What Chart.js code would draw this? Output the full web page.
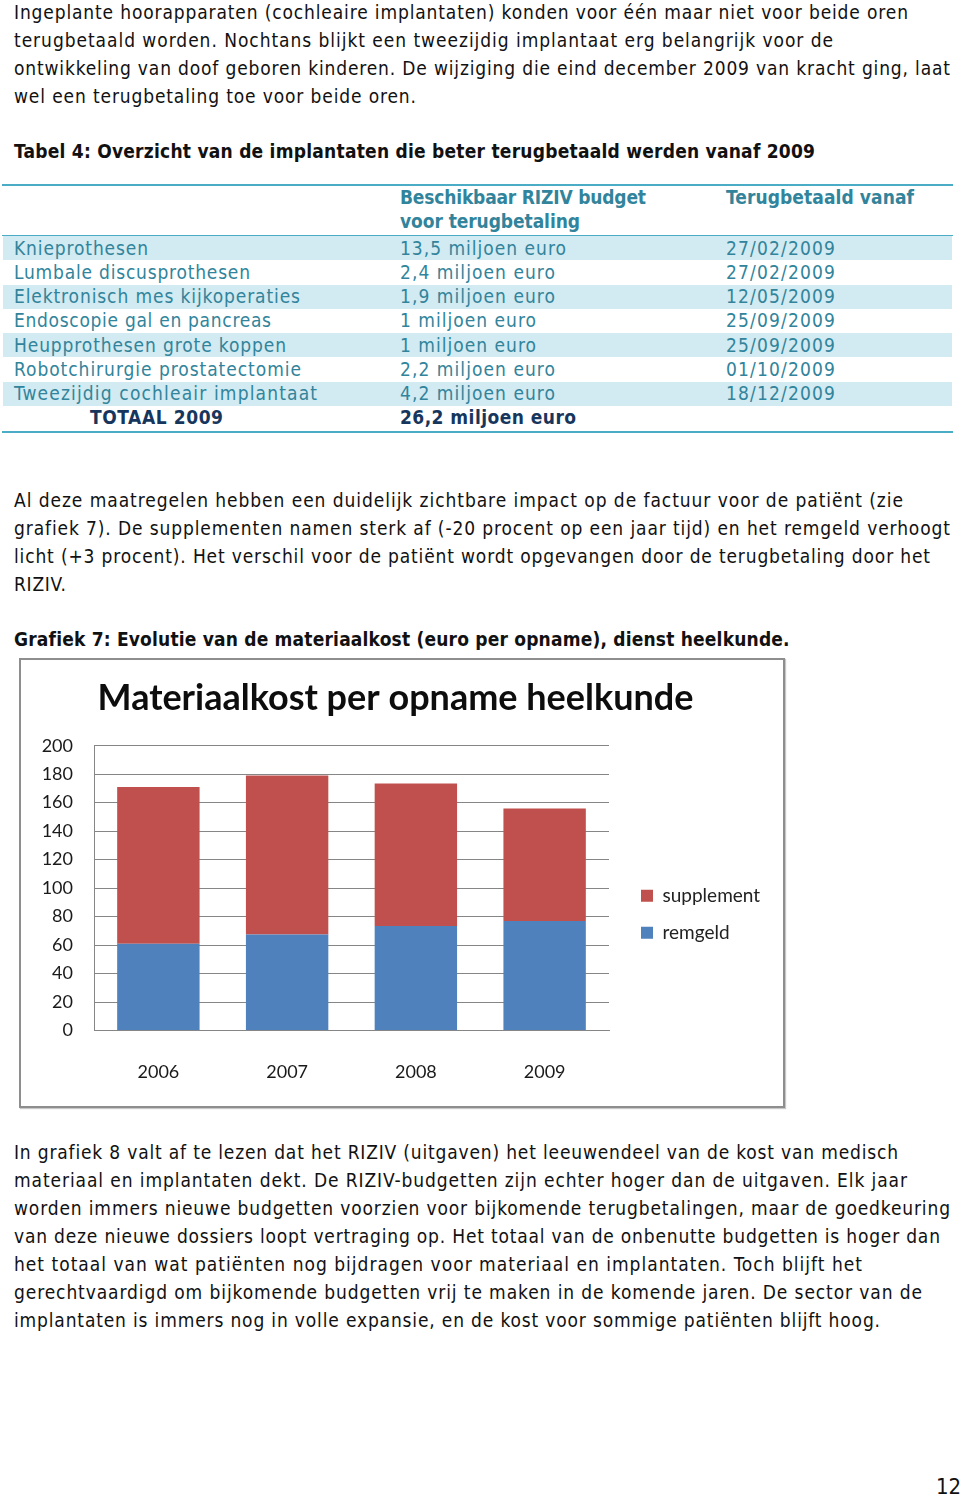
<!DOCTYPE html>
<html lang="nl">
<head>
<meta charset="utf-8">
<title>Grafiek 7 - Materiaalkost per opname heelkunde</title>
<script src="https://cdn.jsdelivr.net/npm/chart.js@4.4.1/dist/chart.umd.min.js"></script>
<style>
  html, body { margin: 0; padding: 0; background: #fff; }
  body {
    position: relative; width: 960px; height: 1497px; overflow: hidden;
    font-family: "DejaVu Sans Condensed", "DejaVu Sans", sans-serif;
    font-stretch: condensed; font-size: 19px; color: #111;
  }
  .ln { position: absolute; white-space: nowrap; line-height: 24px; height: 24px; }
  .b { font-weight: bold; }
  .tc { color: #31849b; }
  .th { color: #31849b; font-weight: bold; }
  .tt { color: #17365d; font-weight: bold; }
  .band { position: absolute; left: 3px; width: 949px; background: #d2eaf1; }
  .rule { position: absolute; left: 2px; width: 951px; background: #4bacc6; }
  #chartBox {
    position: absolute; left: 19px; top: 658px; width: 766px; height: 450px;
    border: 2px solid #8e8e8e; box-sizing: border-box; box-shadow: 1px 1px 1px #c8c8c8;
  }
  #chartBox canvas { display: block; }
  #pageNr { position: absolute; left: 936px; top: 1474px; font-size: 22px; line-height: 26px; }
</style>
</head>
<body>

<!-- Tekst boven de tabel -->
<div class="ln" style="left:14px;top:0px" data-r="908">Ingeplante hoorapparaten (cochleaire implantaten) konden voor één maar niet voor beide oren</div>
<div class="ln" style="left:14px;top:28px" data-r="833">terugbetaald worden. Nochtans blijkt een tweezijdig implantaat erg belangrijk voor de</div>
<div class="ln" style="left:14px;top:56px" data-r="950">ontwikkeling van doof geboren kinderen. De wijziging die eind december 2009 van kracht ging, laat</div>
<div class="ln" style="left:14px;top:84px" data-r="416">wel een terugbetaling toe voor beide oren.</div>
<div class="ln b" style="left:14px;top:139px" data-r="815">Tabel 4: Overzicht van de implantaten die beter terugbetaald werden vanaf 2009</div>

<!-- Tabel 4 -->
<div class="rule" style="top:184px;height:2px"></div>
<div class="rule" style="top:235px;height:1px"></div>
<div class="band" style="top:236px;height:24px"></div>
<div class="band" style="top:285px;height:24px"></div>
<div class="band" style="top:333px;height:24px"></div>
<div class="band" style="top:382px;height:24px"></div>
<div class="rule" style="top:431px;height:2px"></div>

<div class="ln th" style="left:400px;top:185px" data-r="646">Beschikbaar RIZIV budget</div>
<div class="ln th" style="left:400px;top:209px" data-r="580">voor terugbetaling</div>
<div class="ln th" style="left:726px;top:185px" data-r="914">Terugbetaald vanaf</div>

<div class="ln tc" style="left:14px;top:236px" data-r="148">Knieprothesen</div>
<div class="ln tc" style="left:14px;top:260px" data-r="250">Lumbale discusprothesen</div>
<div class="ln tc" style="left:14px;top:284px" data-r="300">Elektronisch mes kijkoperaties</div>
<div class="ln tc" style="left:14px;top:308px" data-r="271">Endoscopie gal en pancreas</div>
<div class="ln tc" style="left:14px;top:333px" data-r="286">Heupprothesen grote koppen</div>
<div class="ln tc" style="left:14px;top:357px" data-r="301">Robotchirurgie prostatectomie</div>
<div class="ln tc" style="left:14px;top:381px" data-r="317">Tweezijdig cochleair implantaat</div>
<div class="ln tt" style="left:90px;top:405px" data-r="223">TOTAAL 2009</div>

<div class="ln tc" style="left:400px;top:236px" data-r="566">13,5 miljoen euro</div>
<div class="ln tc" style="left:400px;top:260px" data-r="555">2,4 miljoen euro</div>
<div class="ln tc" style="left:400px;top:284px" data-r="555">1,9 miljoen euro</div>
<div class="ln tc" style="left:400px;top:308px" data-r="536">1 miljoen euro</div>
<div class="ln tc" style="left:400px;top:333px" data-r="536">1 miljoen euro</div>
<div class="ln tc" style="left:400px;top:357px" data-r="555">2,2 miljoen euro</div>
<div class="ln tc" style="left:400px;top:381px" data-r="555">4,2 miljoen euro</div>
<div class="ln tt" style="left:400px;top:405px" data-r="576">26,2 miljoen euro</div>

<div class="ln tc" style="left:726px;top:236px" data-r="835">27/02/2009</div>
<div class="ln tc" style="left:726px;top:260px" data-r="835">27/02/2009</div>
<div class="ln tc" style="left:726px;top:284px" data-r="835">12/05/2009</div>
<div class="ln tc" style="left:726px;top:308px" data-r="835">25/09/2009</div>
<div class="ln tc" style="left:726px;top:333px" data-r="835">25/09/2009</div>
<div class="ln tc" style="left:726px;top:357px" data-r="835">01/10/2009</div>
<div class="ln tc" style="left:726px;top:381px" data-r="835">18/12/2009</div>

<!-- Tekst tussen tabel en grafiek -->
<div class="ln" style="left:14px;top:488px" data-r="903">Al deze maatregelen hebben een duidelijk zichtbare impact op de factuur voor de patiënt (zie</div>
<div class="ln" style="left:14px;top:516px" data-r="950">grafiek 7). De supplementen namen sterk af (-20 procent op een jaar tijd) en het remgeld verhoogt</div>
<div class="ln" style="left:14px;top:544px" data-r="930">licht (+3 procent). Het verschil voor de patiënt wordt opgevangen door de terugbetaling door het</div>
<div class="ln" style="left:14px;top:572px" data-r="66">RIZIV.</div>
<div class="ln b" style="left:14px;top:627px" data-r="789">Grafiek 7: Evolutie van de materiaalkost (euro per opname), dienst heelkunde.</div>

<!-- Grafiek 7 -->
<div id="chartBox"><canvas id="kostChart"></canvas></div>

<!-- Tekst onder de grafiek -->
<div class="ln" style="left:14px;top:1140px" data-r="898">In grafiek 8 valt af te lezen dat het RIZIV (uitgaven) het leeuwendeel van de kost van medisch</div>
<div class="ln" style="left:14px;top:1168px" data-r="907">materiaal en implantaten dekt. De RIZIV-budgetten zijn echter hoger dan de uitgaven. Elk jaar</div>
<div class="ln" style="left:14px;top:1196px" data-r="950">worden immers nieuwe budgetten voorzien voor bijkomende terugbetalingen, maar de goedkeuring</div>
<div class="ln" style="left:14px;top:1224px" data-r="940">van deze nieuwe dossiers loopt vertraging op. Het totaal van de onbenutte budgetten is hoger dan</div>
<div class="ln" style="left:14px;top:1252px" data-r="862">het totaal van wat patiënten nog bijdragen voor materiaal en implantaten. Toch blijft het</div>
<div class="ln" style="left:14px;top:1280px" data-r="922">gerechtvaardigd om bijkomende budgetten vrij te maken in de komende jaren. De sector van de</div>
<div class="ln" style="left:14px;top:1308px" data-r="880">implantaten is immers nog in volle expansie, en de kost voor sommige patiënten blijft hoog.</div>

<div id="pageNr">12</div>

<script>
// Gegevens van grafiek 7 (euro per opname)
const years = ['2006', '2007', '2008', '2009'];
const remgeld = [61, 67.5, 73.5, 77];
const supplement = [110, 111.5, 100, 79];
const yMin = 0;
const yMax = 200;
const yStep = 20;

// Regels tekst op de juiste breedte zetten (letterafstand)
document.querySelectorAll('.ln[data-r]').forEach(el => {
    const target = parseFloat(el.dataset.r) - parseFloat(el.style.left);
    const natural = el.getBoundingClientRect().width;
    const n = Math.max(el.textContent.length - 1, 1);
    el.style.letterSpacing = ((target - natural) / n) + 'px';
});

const tickFont = { family: 'Lato', size: 18 };
const legendFont = { family: 'Lato', size: 19 };
const legendPad = 18;
const legendBox = 12;

// breedte van de legende vooraf meten om de rechtermarge te bepalen
const mctx = document.createElement('canvas').getContext('2d');
mctx.font = legendFont.size + 'px ' + legendFont.family;
const widest = Math.max(mctx.measureText('supplement').width, mctx.measureText('remgeld').width);
const legendWidth = legendPad + legendBox + legendFont.size / 2 + widest + 10;
const padRight = Math.max(0, 762 - 602 - legendWidth);

const ctx = document.getElementById('kostChart').getContext('2d');
new Chart(ctx, {
    type: 'bar',
    data: {
        labels: years,
        datasets: [
            {
                label: 'remgeld',
                data: remgeld,
                backgroundColor: '#4f81bd',
                categoryPercentage: 0.8,
                barPercentage: 0.8
            },
            {
                label: 'supplement',
                data: supplement,
                backgroundColor: '#c0504d',
                categoryPercentage: 0.8,
                barPercentage: 0.8
            }
        ]
    },
    options: {
        responsive: true,
        maintainAspectRatio: false,
        animation: false,
        layout: {
            padding: { left: 0, top: 0, bottom: 0, right: padRight }
        },
        plugins: {
            title: {
                display: true,
                text: 'Materiaalkost per opname heelkunde',
                color: '#0d0d0d',
                font: { family: 'Lato', size: 36, weight: 'bold', lineHeight: 1.2 },
                padding: { top: 16.4, bottom: 26.1 }
            },
            legend: {
                position: 'right',
                fullSize: false,
                reverse: true,
                maxWidth: 400,
                // lege titel schuift de items naar de hoogte van het origineel
                title: { display: true, text: '', font: { size: 12 }, padding: { top: 0, bottom: 37.6 } },
                labels: {
                    boxWidth: legendBox,
                    boxHeight: legendBox,
                    padding: legendPad,
                    color: '#222',
                    font: legendFont
                }
            },
            tooltip: { enabled: false }
        },
        scales: {
            x: {
                stacked: true,
                grid: { display: false },
                border: { color: '#868686' },
                ticks: { color: '#1a1a1a', font: tickFont, padding: 22.9 }
            },
            y: {
                stacked: true,
                min: yMin,
                max: yMax,
                grid: { color: '#868686', drawTicks: false },
                border: { color: '#868686' },
                ticks: { stepSize: yStep, color: '#1a1a1a', font: tickFont, padding: 21 },
                afterFit: function(scale) { scale.width = 73; }
            },
            // lege as: ruimte tussen het plotgebied en de legende
            gap: {
                type: 'linear',
                axis: 'y',
                position: 'right',
                grid: { display: false },
                border: { display: false },
                ticks: { display: false },
                afterFit: function(scale) { scale.width = 14; }
            }
        }
    }
});
</script>
</body>
</html>
